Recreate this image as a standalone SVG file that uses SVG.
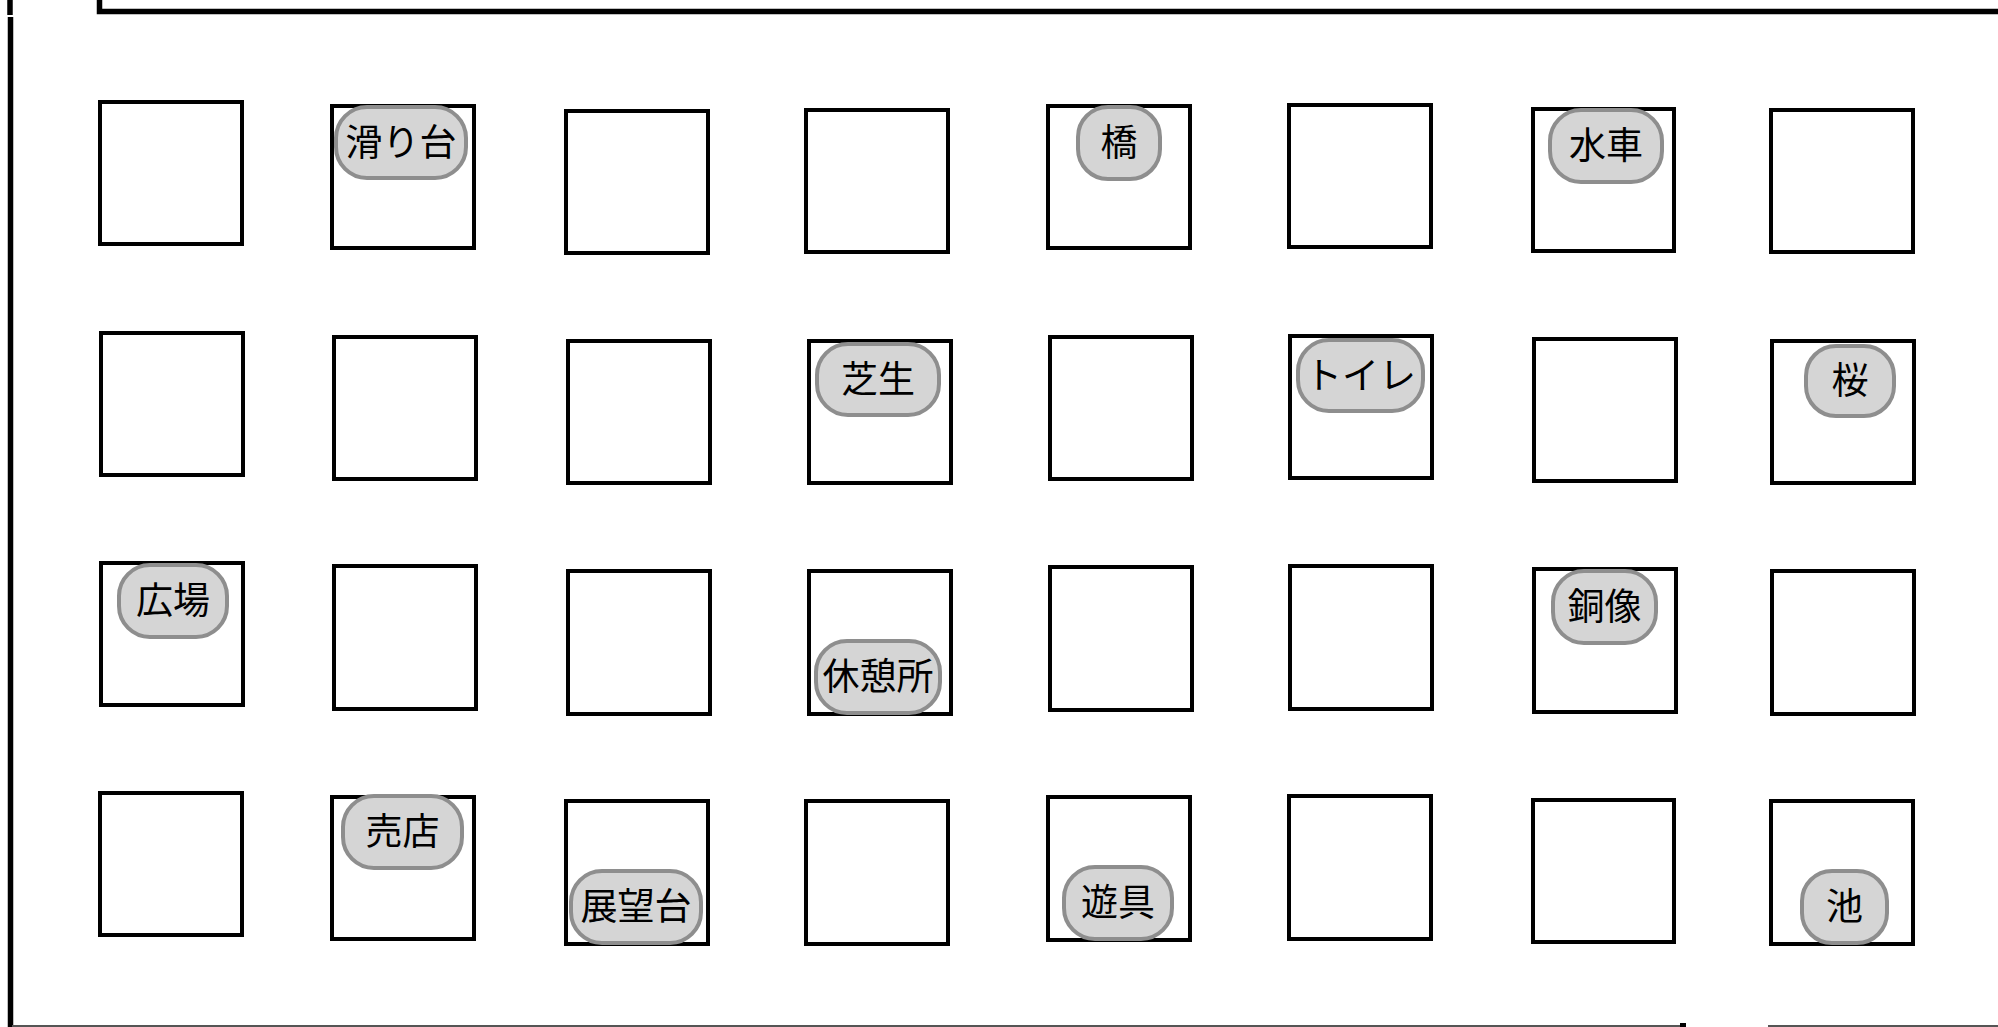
<svg xmlns="http://www.w3.org/2000/svg" width="1998" height="1027" viewBox="0 0 1998 1027">
<style>
.box{fill:#ffffff;stroke:#000000;stroke-width:4}
.pill{fill:#d5d5d5;stroke:#8e8e8e;stroke-width:4}
.lbl{font-family:"Noto Sans CJK JP","Noto Sans",sans-serif;font-size:37px;fill:#000000;text-anchor:middle;dominant-baseline:central}
.frame{fill:none;stroke:#000000;stroke-width:5.5}
</style>
<rect x="0" y="0" width="1998" height="1027" fill="#ffffff"/>
<g id="frame">
<path class="frame" d="M10 0 V15"/>
<path class="frame" d="M10.5 17 V1027"/>
<path class="frame" d="M99.5 0 V11.5 H1998"/>
<path d="M12 1026 H1686 M1768 1026 H1998" fill="none" stroke="#555555" stroke-width="2"/>
<rect x="1680" y="1023" width="6" height="4" fill="#000000"/>
</g>
<g id="connectors"/>
<!-- Row 1 -->
<g id="r1c1"><rect class="box" x="100" y="102" width="142" height="142"/></g>
<g id="r1c2"><rect class="box" x="332" y="106" width="142" height="142"/>
<rect class="pill" x="336" y="107" width="130" height="71" rx="31" ry="31"/><text class="lbl" x="401" y="139.5">滑り台</text></g>
<g id="r1c3"><rect class="box" x="566" y="111" width="142" height="142"/></g>
<g id="r1c4"><rect class="box" x="806" y="110" width="142" height="142"/></g>
<g id="r1c5"><rect class="box" x="1048" y="106" width="142" height="142"/>
<rect class="pill" x="1078" y="107" width="82" height="72" rx="30" ry="30"/><text class="lbl" x="1119" y="140">橋</text></g>
<g id="r1c6"><rect class="box" x="1289" y="105" width="142" height="142"/></g>
<g id="r1c7"><rect class="box" x="1533" y="109" width="141" height="142"/>
<rect class="pill" x="1550" y="110" width="112" height="72" rx="31" ry="31"/><text class="lbl" x="1606" y="143">水車</text></g>
<g id="r1c8"><rect class="box" x="1771" y="110" width="142" height="142"/></g>
<!-- Row 2 -->
<g id="r2c1"><rect class="box" x="101" y="333" width="142" height="142"/></g>
<g id="r2c2"><rect class="box" x="334" y="337" width="142" height="142"/></g>
<g id="r2c3"><rect class="box" x="568" y="341" width="142" height="142"/></g>
<g id="r2c4"><rect class="box" x="809" y="341" width="142" height="142"/>
<rect class="pill" x="817" y="344" width="122" height="71" rx="31" ry="31"/><text class="lbl" x="878" y="376.5">芝生</text></g>
<g id="r2c5"><rect class="box" x="1050" y="337" width="142" height="142"/></g>
<g id="r2c6"><rect class="box" x="1290" y="336" width="142" height="142"/>
<rect class="pill" x="1298" y="340" width="125" height="71" rx="31" ry="31"/><text class="lbl" x="1360.5" y="372.5">トイレ</text></g>
<g id="r2c7"><rect class="box" x="1534" y="339" width="142" height="142"/></g>
<g id="r2c8"><rect class="box" x="1772" y="341" width="142" height="142"/>
<rect class="pill" x="1806" y="346" width="88" height="70" rx="30" ry="30"/><text class="lbl" x="1850" y="378">桜</text></g>
<!-- Row 3 -->
<g id="r3c1"><rect class="box" x="101" y="563" width="142" height="142"/>
<rect class="pill" x="119" y="565" width="108" height="72" rx="31" ry="31"/><text class="lbl" x="173" y="598">広場</text></g>
<g id="r3c2"><rect class="box" x="334" y="566" width="142" height="143"/></g>
<g id="r3c3"><rect class="box" x="568" y="571" width="142" height="143"/></g>
<g id="r3c4"><rect class="box" x="809" y="571" width="142" height="143"/>
<rect class="pill" x="816" y="641" width="124" height="72" rx="31" ry="31"/><text class="lbl" x="878" y="674">休憩所</text></g>
<g id="r3c5"><rect class="box" x="1050" y="567" width="142" height="143"/></g>
<g id="r3c6"><rect class="box" x="1290" y="566" width="142" height="143"/></g>
<g id="r3c7"><rect class="box" x="1534" y="569" width="142" height="143"/>
<rect class="pill" x="1553" y="571" width="103" height="72" rx="31" ry="31"/><text class="lbl" x="1604.5" y="604">銅像</text></g>
<g id="r3c8"><rect class="box" x="1772" y="571" width="142" height="143"/></g>
<!-- Row 4 -->
<g id="r4c1"><rect class="box" x="100" y="793" width="142" height="142"/></g>
<g id="r4c2"><rect class="box" x="332" y="797" width="142" height="142"/>
<rect class="pill" x="343" y="796" width="119" height="72" rx="31" ry="31"/><text class="lbl" x="402.5" y="829">売店</text></g>
<g id="r4c3"><rect class="box" x="566" y="801" width="142" height="143"/>
<rect class="pill" x="571" y="871" width="130" height="72" rx="31" ry="31"/><text class="lbl" x="636" y="904">展望台</text></g>
<g id="r4c4"><rect class="box" x="806" y="801" width="142" height="143"/></g>
<g id="r4c5"><rect class="box" x="1048" y="797" width="142" height="143"/>
<rect class="pill" x="1064" y="867" width="108" height="72" rx="31" ry="31"/><text class="lbl" x="1118" y="900">遊具</text></g>
<g id="r4c6"><rect class="box" x="1289" y="796" width="142" height="143"/></g>
<g id="r4c7"><rect class="box" x="1533" y="800" width="141" height="142"/></g>
<g id="r4c8"><rect class="box" x="1771" y="801" width="142" height="143"/>
<rect class="pill" x="1802" y="871" width="85" height="72" rx="30" ry="30"/><text class="lbl" x="1844.5" y="904">池</text></g>
</svg>
